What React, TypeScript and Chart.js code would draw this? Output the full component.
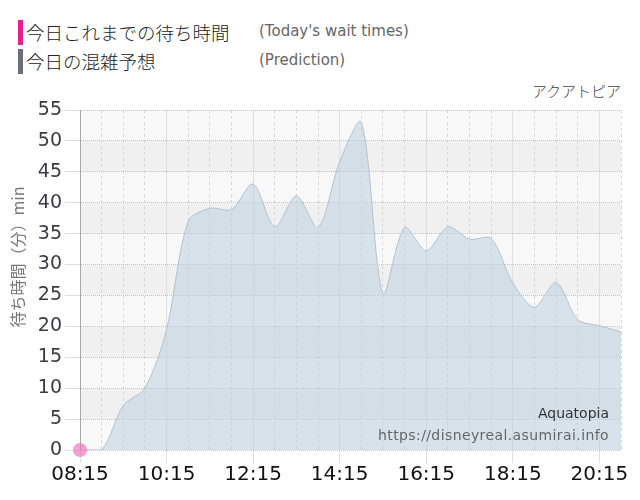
import React, { useEffect, useRef } from 'react';
import { Chart, registerables } from 'chart.js';

Chart.register(...registerables);

// half-hourly slots, 08:15 .. 20:45
const timeLabels = [
  '08:15', '08:45', '09:15', '09:45', '10:15', '10:45', '11:15', '11:45',
  '12:15', '12:45', '13:15', '13:45', '14:15', '14:45', '15:15', '15:45',
  '16:15', '16:45', '17:15', '17:45', '18:15', '18:45', '19:15', '19:45',
  '20:15', '20:45',
];

// 今日の混雑予想 (Prediction)
const predictionValues = [
  0, 0, 7.2, 10, 19.5, 37, 39.1, 38.9,
  43, 36.1, 41.1, 36, 46.6, 53, 25.3, 36,
  32.2, 36.1, 34.1, 34.2, 27, 23.1, 27.1, 21.1,
  20.1, 19.1,
];

// 今日これまでの待ち時間 (Today's wait times)
const todayValues: (number | null)[] = [0];

const yMin = 0;
const yMax = 55;
const yStep = 5;

const attractionName = 'アクアトピア';
const attractionNameEn = 'Aquatopia';
const siteUrl = 'https://disneyreal.asumirai.info';
const yTitle = '待ち時間（分）min';

const FONT = "'DejaVu Sans', sans-serif";
const JP_FONT = "'Noto Sans CJK JP', sans-serif";

const bandsPlugin = {
  id: 'bands',
  beforeDraw(chart: any) {
    const { ctx, chartArea, scales } = chart;
    const y = scales.y;
    ctx.save();
    let i = 0;
    for (let v = yMin; v < yMax; v += yStep, i++) {
      const top = y.getPixelForValue(v + yStep);
      const bottom = y.getPixelForValue(v);
      ctx.fillStyle = i % 2 === 0 ? '#f8f8f8' : '#f0f0f0';
      ctx.fillRect(chartArea.left, top, chartArea.right - chartArea.left, bottom - top);
    }
    ctx.restore();
  },
  afterDraw(chart: any) {
    const { ctx, chartArea } = chart;
    ctx.save();
    // y axis title
    ctx.translate(18, 257);
    ctx.rotate(-Math.PI / 2);
    ctx.fillStyle = '#777';
    ctx.font = `16px ${JP_FONT}`;
    ctx.textAlign = 'center';
    ctx.textBaseline = 'middle';
    ctx.fillText(yTitle, 0, 0);
    ctx.restore();

    ctx.save();
    ctx.textAlign = 'right';
    ctx.textBaseline = 'middle';
    ctx.font = `14px ${FONT}`;
    ctx.fillStyle = '#333';
    ctx.fillText(attractionNameEn, chartArea.right - 12, 414);
    ctx.fillStyle = '#666';
    (ctx as any).letterSpacing = '0.4px';
    ctx.fillText(siteUrl, chartArea.right - 12, 436);
    ctx.restore();
  },
};

const App: React.FC = () => {
  const chartRef = useRef<HTMLCanvasElement | null>(null);
  const chartInstance = useRef<Chart | null>(null);

  useEffect(() => {
    if (!chartRef.current) return;
    const ctx = chartRef.current.getContext('2d');
    if (!ctx) return;

    chartInstance.current = new Chart(ctx, {
      type: 'line',
      data: {
        labels: timeLabels,
        datasets: [
          {
            label: "Today's wait times",
            data: todayValues,
            showLine: false,
            pointRadius: 7,
            pointBorderWidth: 0,
            pointBackgroundColor: 'rgba(240, 120, 190, 0.7)',
            clip: false as any,
            order: 0,
          },
          {
            label: 'Prediction',
            data: predictionValues,
            fill: 'origin',
            backgroundColor: 'rgba(190, 208, 224, 0.55)',
            borderColor: '#b3c1cd',
            borderWidth: 1,
            pointRadius: 0,
            tension: 0.3,
            order: 1,
          },
        ],
      },
      options: {
        responsive: true,
        maintainAspectRatio: false,
        animation: false,
        layout: { padding: { top: 110, right: 19, left: 0, bottom: 0 } },
        plugins: {
          legend: { display: false },
          tooltip: { enabled: false },
        },
        scales: {
          x: {
            type: 'category',
            offset: false,
            afterFit: (s: any) => { s.height = 50; },
            border: {
              display: false,
              dash: (c: any) => (c.index % 4 === 0 ? [] : [3, 3]),
            },
            grid: {
              color: (c: any) => (c.index % 4 === 0 ? '#dedede' : '#d6d6d6'),
              tickColor: (c: any) => (c.index % 4 === 0 ? '#dedede' : 'rgba(0,0,0,0)'),
              tickLength: 13,
              lineWidth: 1,
            },
            ticks: {
              autoSkip: false,
              maxRotation: 0,
              padding: 0,
              color: '#111',
              font: { family: FONT, size: 20 },
              callback: (_v: any, i: number) => (i % 4 === 0 ? timeLabels[i] : ''),
            },
          },
          y: {
            min: yMin,
            max: yMax,
            afterFit: (s: any) => { s.width = 80; },
            border: { display: true, color: '#a8a8a8', width: 1, dash: [1, 1] },
            grid: {
              color: '#c2c2c2',
              tickColor: '#dddddd',
              tickBorderDash: [],
              tickLength: 15,
            },
            ticks: {
              stepSize: yStep,
              padding: 3,
              color: '#3a3a46',
              font: { family: FONT, size: 19 },
            },
          },
        },
      },
      plugins: [bandsPlugin],
    });

    return () => {
      if (chartInstance.current) chartInstance.current.destroy();
    };
  }, []);

  const legendText: React.CSSProperties = {
    position: 'absolute',
    fontFamily: JP_FONT,
    fontSize: 18.5,
    fontWeight: 300,
    color: '#222',
    whiteSpace: 'nowrap',
    lineHeight: '24px',
  };
  const legendSub: React.CSSProperties = {
    position: 'absolute',
    fontFamily: FONT,
    fontSize: 15,
    color: '#666',
    whiteSpace: 'nowrap',
    lineHeight: '20px',
  };

  return (
    <div style={{ position: 'fixed', left: 0, top: 0, width: 640, height: 500, background: '#fff' }}>
      <div style={{ position: 'absolute', left: 18, top: 20, width: 5, height: 25, background: '#e8208e' }} />
      <div style={{ ...legendText, left: 26, top: 20 }}>今日これまでの待ち時間</div>
      <div style={{ ...legendSub, left: 259, top: 21 }}>(Today's wait times)</div>
      <div style={{ position: 'absolute', left: 18, top: 49, width: 5, height: 25, background: '#6c7078' }} />
      <div style={{ ...legendText, left: 26, top: 49 }}>今日の混雑予想</div>
      <div style={{ ...legendSub, left: 259, top: 50 }}>(Prediction)</div>
      <div
        style={{
          position: 'absolute', right: 19, top: 80, fontFamily: JP_FONT, fontSize: 15,
          fontWeight: 300, color: '#444', lineHeight: '22px', whiteSpace: 'nowrap',
        }}
      >
        {attractionName}
      </div>
      <canvas ref={chartRef} style={{ position: 'absolute', left: 0, top: 0, width: 640, height: 500 }} />
    </div>
  );
};

export default App;
